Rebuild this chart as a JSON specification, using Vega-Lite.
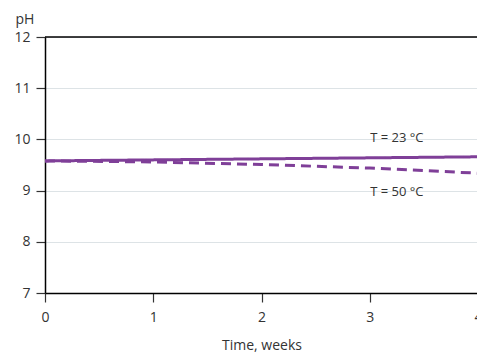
{
  "$schema": "https://vega.github.io/schema/vega-lite/v6.json",
  "width": 433,
  "height": 256,
  "autosize": "none",
  "padding": {"left": 45, "top": 37, "right": 0, "bottom": 66},
  "background": "white",
  "config": {
    "view": {"stroke": null},
    "font": "Open Sans",
    "axis": {
      "labelFont": "Open Sans",
      "titleFont": "Open Sans",
      "labelFontSize": 14,
      "titleFontSize": 14,
      "labelColor": "#333333",
      "titleColor": "#333333",
      "titleFontWeight": "normal",
      "domainColor": "#000000",
      "domainWidth": 1.5,
      "tickColor": "#333333",
      "tickSize": 9,
      "tickWidth": 1.2
    }
  },
  "datasets": {
    "lines": [
      {"week": 0, "ph": 9.58, "series": "T = 23 °C"},
      {"week": 1, "ph": 9.60, "series": "T = 23 °C"},
      {"week": 2, "ph": 9.62, "series": "T = 23 °C"},
      {"week": 3, "ph": 9.64, "series": "T = 23 °C"},
      {"week": 4, "ph": 9.66, "series": "T = 23 °C"},
      {"week": 0, "ph": 9.58, "series": "T = 50 °C"},
      {"week": 1, "ph": 9.56, "series": "T = 50 °C"},
      {"week": 2, "ph": 9.51, "series": "T = 50 °C"},
      {"week": 3, "ph": 9.44, "series": "T = 50 °C"},
      {"week": 4, "ph": 9.34, "series": "T = 50 °C"}
    ],
    "labels": [
      {"week": 3.25, "ph": 10.03, "label": "T = 23 °C"},
      {"week": 3.25, "ph": 8.98, "label": "T = 50 °C"}
    ],
    "top": [{"ph": 12}]
  },
  "layer": [
    {
      "data": {"name": "lines"},
      "mark": {"type": "line", "strokeWidth": 3, "color": "#7f3f98", "clip": false},
      "encoding": {
        "x": {
          "field": "week", "type": "quantitative",
          "scale": {"domain": [0, 4], "nice": false},
          "axis": {"values": [0, 1, 2, 3, 4], "format": "d", "title": "Time, weeks", "grid": false, "labelPadding": 8, "titlePadding": 14, "labelFlush": false}
        },
        "y": {
          "field": "ph", "type": "quantitative",
          "scale": {"domain": [7, 12], "nice": false, "zero": false},
          "axis": {
            "values": [7, 8, 9, 10, 11, 12],
            "title": "pH",
            "titleAngle": 0,
            "titleAlign": "left",
            "titleBaseline": "middle",
            "titleX": -30,
            "titleY": -18,
            "grid": true,
            "gridColor": "#dde3e6",
            "gridWidth": 1,
            "labelPadding": 6
          }
        },
        "strokeDash": {
          "field": "series", "type": "nominal",
          "scale": {"domain": ["T = 23 °C", "T = 50 °C"], "range": [[1, 0], [10, 6]]},
          "legend": null
        }
      }
    },
    {
      "data": {"name": "top"},
      "mark": {"type": "rule", "color": "#000000", "strokeWidth": 1.5},
      "encoding": {
        "y": {"field": "ph", "type": "quantitative"}
      }
    },
    {
      "data": {"name": "labels"},
      "mark": {"type": "text", "fontSize": 13, "color": "#333333", "font": "Open Sans"},
      "encoding": {
        "x": {"field": "week", "type": "quantitative"},
        "y": {"field": "ph", "type": "quantitative"},
        "text": {"field": "label"}
      }
    }
  ]
}
